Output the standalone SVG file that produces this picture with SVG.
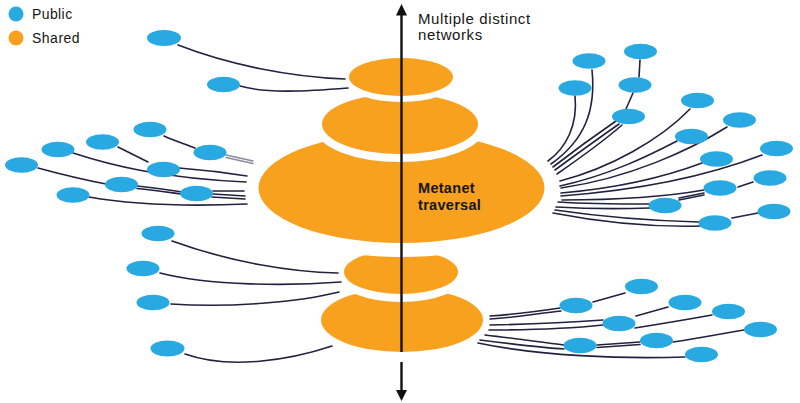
<svg xmlns="http://www.w3.org/2000/svg" width="800" height="403" viewBox="0 0 800 403">
<style>
.bg{fill:#ffffff}
.sh{fill:#F7A11F;stroke:#ffffff;paint-order:stroke}
.pub{fill:#29A9E1}
.c path{fill:none;stroke:#23213f;stroke-width:1.6;stroke-linecap:round}
.c path.g{stroke:#8b8a9c;stroke-width:1.3}
.t{font-family:"Liberation Sans",Arial,sans-serif;fill:#161616}
.ax{stroke:#111;stroke-width:2.4}
</style>
<rect class="bg" x="0" y="0" width="800" height="403"/>

<g id="legend">
  <circle cx="16" cy="14" r="7.5" class="pub"/>
  <text class="t" x="32" y="19" font-size="14" letter-spacing="0.4">Public</text>
  <circle cx="16" cy="38" r="7.5" fill="#F7A11F"/>
  <text class="t" x="32" y="43" font-size="14" letter-spacing="0.5">Shared</text>
</g>

<g id="shared-layers">
  <ellipse id="layer5" class="sh" cx="402" cy="320" rx="81" ry="32" stroke-width="0"/>
  <ellipse id="layer4" class="sh" cx="401" cy="272" rx="57" ry="22" stroke-width="16"/>
  <ellipse id="layer3" class="sh" cx="401.5" cy="188" rx="143" ry="55" stroke-width="28"/>
  <ellipse id="layer2" class="sh" cx="400" cy="124" rx="78" ry="30" stroke-width="16"/>
  <ellipse id="layer1" class="sh" cx="401" cy="77" rx="52" ry="19" stroke-width="12"/>
</g>

<g id="axis">
  <line class="ax" x1="401.5" y1="14" x2="401.5" y2="352"/>
  <polygon points="401.5,4 396,15.5 407,15.5" fill="#111"/>
  <line class="ax" x1="401.5" y1="362" x2="401.5" y2="391"/>
  <polygon points="401.5,401 396,390 407,390" fill="#111"/>
</g>

<g id="labels">
  <text class="t" x="418" y="24" font-size="15" letter-spacing="0.6">Multiple distinct</text>
  <text class="t" x="418" y="40" font-size="15" letter-spacing="0.6">networks</text>
  <text class="t" x="418" y="193" font-size="14.5" font-weight="bold" letter-spacing="0.3">Metanet</text>
  <text class="t" x="418" y="210" font-size="14.5" font-weight="bold" letter-spacing="0.3">traversal</text>
</g>

<g id="connectors" class="c">
  <!-- top left -->
  <path d="M178,45 C230,65 290,77 345,79"/>
  <path d="M240,86 C265,93 300,92 348,88"/>
  <!-- left cluster -->
  <path d="M164,136 C175,141 185,144 195,148"/>
  <path class="g" d="M226,155 L253,161"/>
  <path class="g" d="M226,157.5 L253,163.5"/>
  <path d="M118,147 C128,152 138,157 148,162"/>
  <path d="M179,168 C205,170 228,173 247,176"/>
  <path d="M73,153 C110,165 160,178 246,182"/>
  <path d="M38,168 C60,174 85,180 106,184"/>
  <path d="M137,186 C155,188 170,190 182,192"/>
  <path d="M137,188.5 C155,190.5 170,192.5 182,194"/>
  <path d="M213,191 L244,191"/>
  <path d="M213,194 L245,196"/>
  <path d="M212,197 L245,199"/>
  <path d="M89,197 C140,206 200,206 247,204"/>
  <!-- lower left -->
  <path d="M172,241 C230,262 290,272 338,273"/>
  <path d="M160,273 C210,286 290,286 341,282"/>
  <path d="M171,304 C230,308 300,302 339,292"/>
  <path d="M185,354 C230,370 290,360 332,346"/>
  <!-- right fan -->
  <path d="M548,161 C566,148 578,125 575,96"/>
  <path d="M551,164 C585,140 596,110 592,70"/>
  <path d="M553,167 C575,150 600,132 616,121"/>
  <path d="M555,170 C578,153 602,136 619,124"/>
  <path d="M557,174 C580,158 605,140 622,125"/>
  <path d="M560,181 C610,168 660,140 690,109"/>
  <path d="M560,186 C610,175 650,155 677,141"/>
  <path d="M561,188 C630,178 690,150 727,127"/>
  <path d="M561,193 C620,188 670,175 702,163"/>
  <path d="M561,196 C640,190 710,175 762,155"/>
  <path d="M562,200 C620,200 670,196 704,190"/>
  <path d="M558,202 C590,204 620,204 649,204"/>
  <path d="M556,207 C590,209 620,209 650,208"/>
  <path d="M555,210 C610,218 660,221 699,222"/>
  <path d="M553,213 C610,224 660,227 700,226"/>
  <path d="M640,60 L639,77"/>
  <path d="M633,93 L626,109" stroke-width="2.4"/>
  <path d="M753,182 L738,187"/>
  <path d="M704,193 L679,198"/>
  <path d="M704,195 L679,200"/>
  <path d="M758,213 L732,218"/>
  <!-- lower right -->
  <path d="M593,302 L625,293"/>
  <path d="M490,316 C520,314 540,311 560,308"/>
  <path d="M490,319 C520,317 540,313 561,311"/>
  <path d="M636,316 L668,307"/>
  <path d="M490,325 C540,324 575,322 603,320"/>
  <path d="M489,330 C540,330 575,328 603,325"/>
  <path d="M635,328 C660,324 690,319 712,315"/>
  <path d="M485,335 C520,339 545,343 564,345"/>
  <path d="M480,340 C520,345 545,348 564,349"/>
  <path d="M597,345 L640,342"/>
  <path d="M597,347.5 L640,344.5"/>
  <path d="M673,342 C700,338 725,333 744,330"/>
  <path d="M478,343 C540,356 620,359 685,357"/>
</g>

<g id="public-nodes" class="pub">
  <ellipse id="n1" cx="164" cy="38" rx="17" ry="8"/>
  <ellipse id="n2" cx="223.5" cy="84.5" rx="16.5" ry="7.8"/>
  <ellipse id="n3" cx="150" cy="129.5" rx="16.5" ry="7.8"/>
  <ellipse id="n4" cx="210" cy="152.5" rx="16.5" ry="7.8"/>
  <ellipse id="n5" cx="102.5" cy="142" rx="16.5" ry="7.8"/>
  <ellipse id="n6" cx="58" cy="149.5" rx="16.5" ry="7.8"/>
  <ellipse id="n7" cx="21.5" cy="165" rx="16.5" ry="7.8"/>
  <ellipse id="n8" cx="163.5" cy="169.5" rx="16.5" ry="7.8"/>
  <ellipse id="n9" cx="121.5" cy="184.5" rx="16.5" ry="7.8"/>
  <ellipse id="n10" cx="196.5" cy="193.5" rx="16.5" ry="7.8"/>
  <ellipse id="n11" cx="73" cy="195" rx="16.5" ry="7.8"/>
  <ellipse id="n12" cx="158" cy="233.5" rx="16.5" ry="7.8"/>
  <ellipse id="n13" cx="143" cy="268.5" rx="16.5" ry="7.8"/>
  <ellipse id="n14" cx="153" cy="302.5" rx="16.5" ry="7.8"/>
  <ellipse id="n15" cx="167.5" cy="348.5" rx="17" ry="8"/>
  <ellipse id="n16" cx="589" cy="61" rx="16.5" ry="7.8"/>
  <ellipse id="n17" cx="640.5" cy="51.5" rx="16.5" ry="7.8"/>
  <ellipse id="n18" cx="575" cy="88" rx="16.5" ry="7.8"/>
  <ellipse id="n19" cx="635" cy="85" rx="16.5" ry="7.8"/>
  <ellipse id="n20" cx="628.5" cy="116.5" rx="16.5" ry="7.8"/>
  <ellipse id="n21" cx="697.5" cy="100.5" rx="16.5" ry="7.8"/>
  <ellipse id="n22" cx="739.5" cy="120" rx="16.5" ry="7.8"/>
  <ellipse id="n23" cx="691.5" cy="136.5" rx="16.5" ry="7.8"/>
  <ellipse id="n24" cx="776.5" cy="148.5" rx="16.5" ry="7.8"/>
  <ellipse id="n25" cx="716.5" cy="159" rx="16.5" ry="7.8"/>
  <ellipse id="n26" cx="770" cy="178" rx="16.5" ry="7.8"/>
  <ellipse id="n27" cx="720" cy="188" rx="16.5" ry="7.8"/>
  <ellipse id="n28" cx="665" cy="205.5" rx="16.5" ry="7.8"/>
  <ellipse id="n29" cx="774" cy="211.5" rx="16.5" ry="7.8"/>
  <ellipse id="n30" cx="715" cy="223" rx="16.5" ry="7.8"/>
  <ellipse id="n31" cx="641.5" cy="286.5" rx="16.5" ry="7.8"/>
  <ellipse id="n32" cx="576" cy="305.5" rx="16.5" ry="7.8"/>
  <ellipse id="n33" cx="685" cy="302.5" rx="16.5" ry="7.8"/>
  <ellipse id="n34" cx="728.5" cy="311.5" rx="16.5" ry="7.8"/>
  <ellipse id="n35" cx="619" cy="323.5" rx="16.5" ry="7.8"/>
  <ellipse id="n36" cx="760.5" cy="329.5" rx="16.5" ry="7.8"/>
  <ellipse id="n37" cx="580" cy="345.5" rx="16.5" ry="7.8"/>
  <ellipse id="n38" cx="656.5" cy="340.5" rx="16.5" ry="7.8"/>
  <ellipse id="n39" cx="701.5" cy="354.5" rx="16.5" ry="7.8"/>
</g>
</svg>
